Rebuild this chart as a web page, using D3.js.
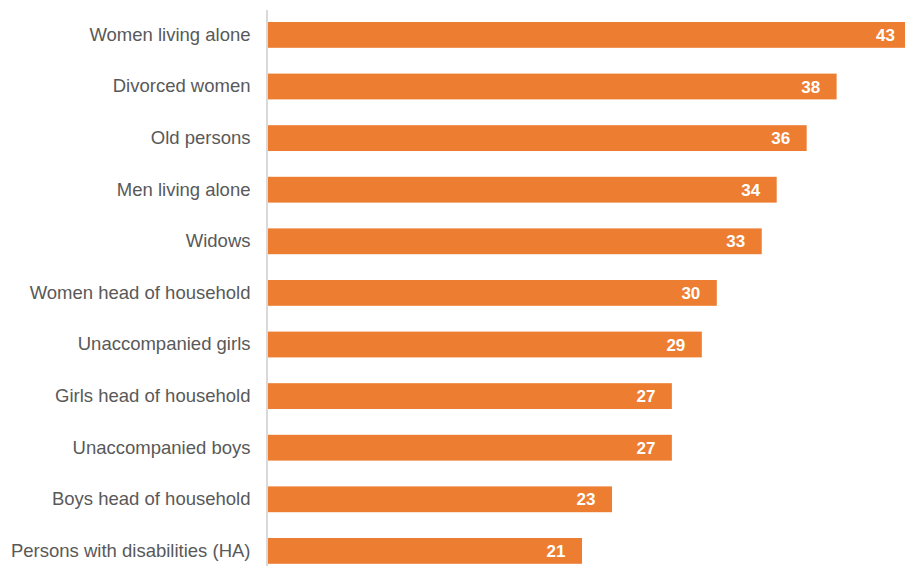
<!DOCTYPE html>
<html>
<head>
<meta charset="utf-8">
<script src="https://cdn.jsdelivr.net/npm/d3@7"></script>
<style>
  html, body { margin: 0; padding: 0; background: #ffffff; }
  svg { display: block; }
</style>
</head>
<body>
<svg id="chart" width="905" height="566"></svg>
<script>
// Share of respondents per vulnerable group
const categories = [
  "Women living alone",
  "Divorced women",
  "Old persons",
  "Men living alone",
  "Widows",
  "Women head of household",
  "Unaccompanied girls",
  "Girls head of household",
  "Unaccompanied boys",
  "Boys head of household",
  "Persons with disabilities (HA)"
];
const values = [43, 38, 36, 34, 33, 30, 29, 27, 27, 23, 21];

const svg = d3.select("#chart");
const W = 905, H = 566;

const x = d3.scaleLinear().domain([0, 43]).range([267.5, 911.5]);
const y = d3.scaleBand()
  .domain(categories)
  .range([9.1, 9.1 + 51.6 * categories.length])
  .paddingInner(0.5)
  .paddingOuter(0.25);

const rows = categories.map((c, i) => ({ cat: c, val: values[i] }));

// bars
svg.append("g").selectAll("rect")
  .data(rows)
  .join("rect")
  .attr("x", x(0))
  .attr("y", d => y(d.cat))
  .attr("width", d => x(d.val) - x(0))
  .attr("height", y.bandwidth())
  .attr("fill", "#ED7D31");

// value labels inside bar ends
svg.append("g").selectAll("text")
  .data(rows)
  .join("text")
  .attr("x", d => x(d.val) - 16.5)
  .attr("y", d => y(d.cat) + y.bandwidth() / 2)
  .attr("dy", "0.36em")
  .attr("text-anchor", "end")
  .attr("font-family", "'Liberation Sans', Arial, sans-serif")
  .attr("font-weight", "bold")
  .attr("font-size", "17px")
  .attr("fill", "#ffffff")
  .text(d => d.val);

// category axis
const axis = svg.append("g")
  .attr("transform", `translate(${x(0) - 0.5},0)`)
  .call(d3.axisLeft(y).tickSize(0).tickPadding(16.5));
axis.select(".domain")
  .attr("d", `M0,10V${H}`)
  .attr("stroke", "#d9d9d9")
  .attr("stroke-width", 2);
axis.selectAll("text")
  .attr("font-family", "'Liberation Sans', Arial, sans-serif")
  .attr("font-size", "18.5px")
  .attr("fill", "#595959");
</script>
</body>
</html>
